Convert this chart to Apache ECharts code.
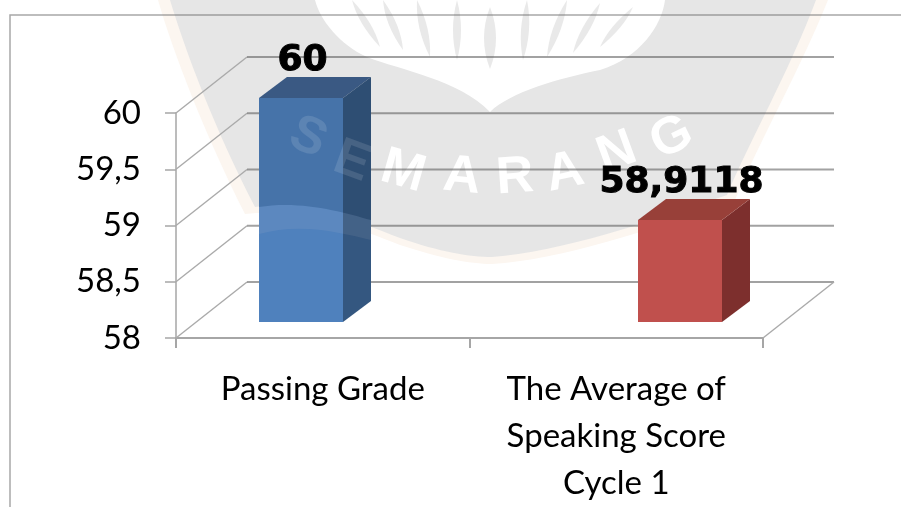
<!DOCTYPE html>
<html>
<head>
<meta charset="utf-8">
<style>html,body{margin:0;padding:0;background:#fff}#c{width:901px;height:507px}</style>
<script src="https://cdn.jsdelivr.net/npm/echarts@6/dist/echarts.min.js"></script>
</head>
<body>
<div id="c"></div>
<script>
var categories = ['Passing Grade', 'The Average of\nSpeaking Score\nCycle 1'];
var scores = [60, 58.9118];
var yTicks = [58, 58.5, 59, 59.5, 60];
var yMin = 58, yMax = 60, yStep = 0.5;

var barFaces = [
  {front:'#4f81bd', side:'#345780', top:'#416492'},
  {front:'#c0504d', side:'#7d2f2d', top:'#984039'}
];
function comma(v){ return String(v).replace('.', ','); }
var WALL_DX = 71, WALL_DY = -56;
var BAR_HALF = 42, BAR_DX = 28, BAR_DY = -21;

/* ---- watermark (decoration behind / over the chart) ---- */
var WMGRAY = '#e6e6e6';
function pathEl(d, fill){ return {type:'path', shape:{pathData:d}, style:{fill:fill}}; }
function feather(x1,y1,x2,y2,w){
  var mx=(x1+x2)/2, my=(y1+y2)/2;
  return 'M'+x1+' '+y1+' Q'+(mx-w)+' '+my+' '+x2+' '+y2+' Q'+(mx+w)+' '+my+' '+x1+' '+y1+' Z';
}
var feathers = [
  [352,0,380,47,8],[383,0,403,50,8],[417,0,430,57,8],[457,0,457,60,8],
  [527,0,523,60,8],[567,0,547,57,8],[600,3,573,53,8],[633,7,600,47,8],[490,7,490,69,12]
];
var letters = [
  ['M',403,172,16],['A',462,177,6],['R',515,178,-4],['A',565,173,-12],['N',617,153,-20],['G',672,138,-26]
];
var barLetters = [['S',308,138,24],['E',352,162,20]];
function letterEl(l, fill){
  return {type:'text', x:l[1], y:l[2], rotation:-l[3]*Math.PI/180,
    style:{text:l[0], x:0, y:0, align:'center', verticalAlign:'middle', fill:fill,
      font:'bold 52px "Liberation Sans"'}};
}
function renderWatermarkBack(){
  var kids = [
    pathEl('M158 0 C173 52 205 135 245 214 C300 208 350 225 400 245 C440 258 470 264 492 264 C560 260 650 230 735 200 C760 140 800 70 828 0 Z', '#fcf6f0'),
    pathEl('M170 0 C185 50 215 130 255 207 C300 200 350 218 400 238 C440 252 470 257 492 257 C560 252 650 222 727 195 C750 140 790 70 816 0 Z', WMGRAY),
    pathEl('M315 0 C320 20 340 45 367 57 C400 70 460 80 490 112 C510 92 560 78 600 70 C640 58 662 25 665 0 Z', '#ffffff')
  ];
  feathers.forEach(function(f){ kids.push(pathEl(feather(f[0],f[1],f[2],f[3],f[4]), '#e9e9e9')); });
  letters.forEach(function(l){ kids.push(letterEl(l,'#ffffff')); });
  return {type:'group', children:kids};
}
function renderWatermarkFront(){
  var kids = [
    pathEl('M259 98 L287 77 L371 77 L371 220 C343 212 300 200 259 207 Z', 'rgba(0,0,0,0.1)'),
    pathEl('M259 207 C300 200 343 212 371 220 L371 240 C343 233 300 222 259 234 Z', 'rgba(255,235,215,0.08)')
  ];
  barLetters.forEach(function(l){ kids.push(letterEl(l,'rgba(255,255,255,0.12)')); });
  return {type:'group', children:kids};
}

function renderWall(params, api){
  var v = api.value(1), cs = params.coordSys;
  var y = api.coord([0, v])[1], x0 = cs.x, x1 = cs.x + cs.width;
  var kids = [
    {type:'line', shape:{x1:x0,y1:y,x2:x0+WALL_DX,y2:y+WALL_DY}, style:{stroke:'#aaaaaa',lineWidth:1.4}},
    {type:'line', shape:{x1:x0+WALL_DX,y1:y+WALL_DY,x2:x1+WALL_DX,y2:y+WALL_DY}, style:{stroke:'rgba(70,70,70,0.5)',lineWidth:2}}
  ];
  if (v === yMin) kids.push({type:'line', shape:{x1:x1,y1:y,x2:x1+WALL_DX,y2:y+WALL_DY}, style:{stroke:'#aaaaaa',lineWidth:1.4}});
  return {type:'group', children:kids};
}
function renderBar(params, api){
  var i = api.value(0), v = api.value(1);
  var t = api.coord([i, v]), b = api.coord([i, yMin]);
  var c = barFaces[i];
  var L = t[0]-BAR_HALF, R = t[0]+BAR_HALF, T = t[1], B = b[1];
  return {type:'group', children:[
    {type:'polygon', shape:{points:[[R,T],[R+BAR_DX,T+BAR_DY],[R+BAR_DX,B+BAR_DY],[R,B]]}, style:{fill:c.side}},
    {type:'polygon', shape:{points:[[L,T],[L+BAR_DX,T+BAR_DY],[R+BAR_DX,T+BAR_DY],[R,T]]}, style:{fill:c.top}},
    {type:'rect', shape:{x:L,y:T,width:R-L,height:B-T}, style:{fill:c.front}},
    {type:'text', style:{text:comma(v), x:t[0]+1.5, y:T+BAR_DY-16, align:'center', verticalAlign:'middle',
      fill:'#000', stroke:'#000', lineWidth:1, font:'bold 36px "DejaVu Sans"'}}
  ]};
}

var chart = echarts.init(document.getElementById('c'), null, {renderer:'canvas'});
chart.setOption({
  animation:false,
  backgroundColor:'#fff',
  graphic:{elements:[
    {type:'polyline', z:60, silent:true, shape:{points:[[10,507],[10,15],[901,15]]},
      style:{stroke:'rgba(110,110,110,0.6)', lineWidth:1.5, fill:null}}
  ]},
  grid:[
    {left:176, top:113, width:587, height:225},
    {left:111.5, top:98, width:758, height:224}
  ],
  xAxis:[
    {type:'category', gridIndex:0, data:categories,
      axisLine:{lineStyle:{color:'#a6a6a6',width:2}},
      axisTick:{show:true,length:10,lineStyle:{color:'#a6a6a6',width:2}},
      axisLabel:{color:'#000',fontFamily:'Lato',fontSize:33,lineHeight:47,margin:28,interval:0}},
    {type:'category', gridIndex:1, data:categories, show:false}
  ],
  yAxis:[
    {type:'value', gridIndex:0, min:yMin, max:yMax, interval:yStep,
      axisLine:{show:true,lineStyle:{color:'#a6a6a6',width:1.5}},
      axisTick:{show:true,length:11,lineStyle:{color:'#a6a6a6',width:1.5}},
      splitLine:{show:false},
      axisLabel:{color:'#000',fontFamily:'Lato',fontSize:33,margin:35,formatter:comma}},
    {type:'value', gridIndex:1, min:yMin, max:yMax, interval:yStep, show:false, splitLine:{show:false}}
  ],
  series:[
    {type:'custom', xAxisIndex:0, yAxisIndex:0, z:1, silent:true, clip:false,
      renderItem:renderWatermarkBack, data:[[0,yMin]]},
    {type:'custom', xAxisIndex:0, yAxisIndex:0, z:3, silent:true, clip:false,
      renderItem:renderWall, data:yTicks.map(function(v){return [0,v];})},
    {type:'custom', xAxisIndex:1, yAxisIndex:1, z:4, silent:true, clip:false,
      renderItem:renderBar, data:scores.map(function(v,i){return [i,v];})},
    {type:'custom', xAxisIndex:0, yAxisIndex:0, z:5, silent:true, clip:false,
      renderItem:renderWatermarkFront, data:[[0,yMin]]}
  ]
});
</script>
</body>
</html>
